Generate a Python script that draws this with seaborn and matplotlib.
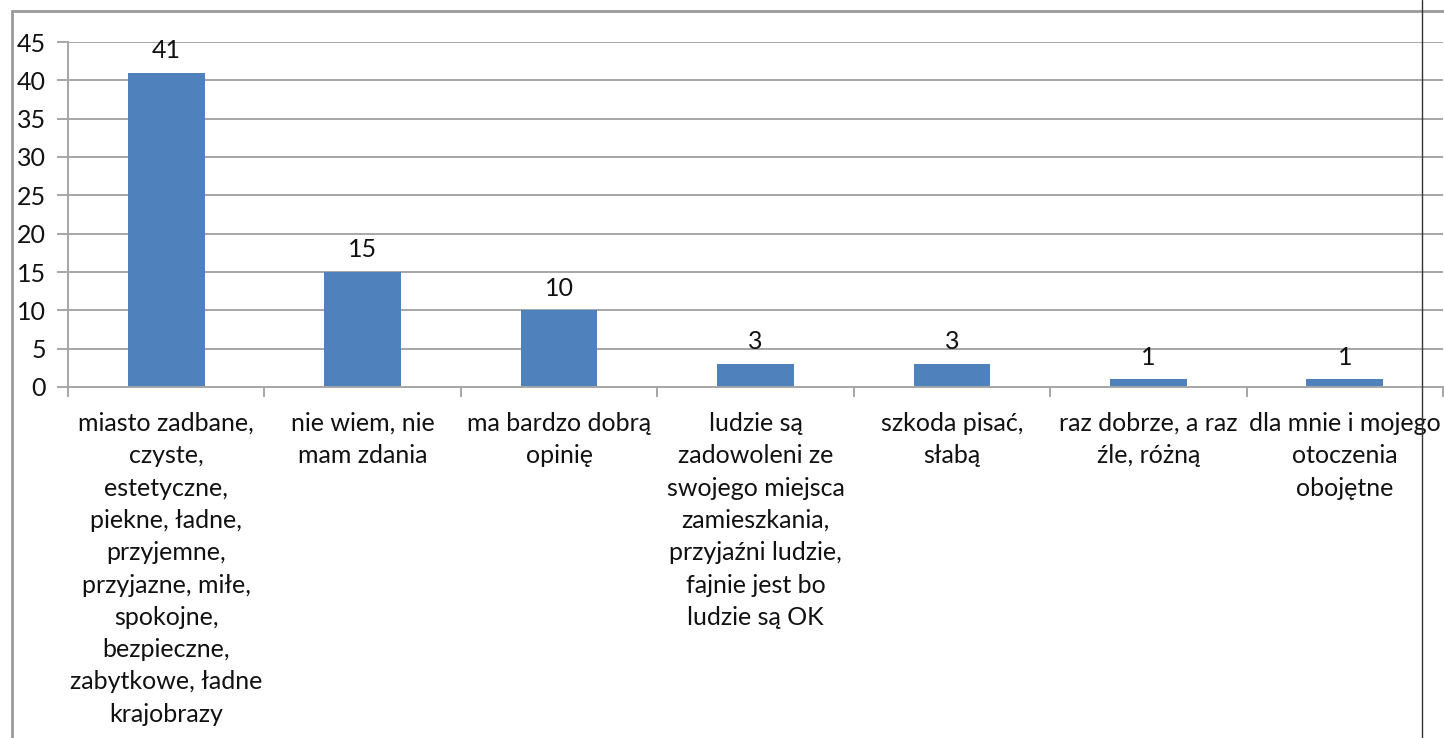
import matplotlib
matplotlib.use("Agg")
import matplotlib.pyplot as plt
import seaborn as sns
import pandas as pd
import numpy as np
from matplotlib.lines import Line2D

categories = [
    "miasto zadbane,\nczyste,\nestetyczne,\npiekne, ładne,\nprzyjemne,\nprzyjazne, miłe,\nspokojne,\nbezpieczne,\nzabytkowe, ładne\nkrajobrazy",
    "nie wiem, nie\nmam zdania",
    "ma bardzo dobrą\nopinię",
    "ludzie są\nzadowoleni ze\nswojego miejsca\nzamieszkania,\nprzyjaźni ludzie,\nfajnie jest bo\nludzie są OK",
    "szkoda pisać,\nsłabą",
    "raz dobrze, a raz\nźle, różną",
    "dla mnie i mojego\notoczenia\nobojętne",
]
values = [41, 15, 10, 3, 3, 1, 1]
yticks = [0, 5, 10, 15, 20, 25, 30, 35, 40, 45]

sns.set_theme(style="white")
plt.rcParams['font.family'] = ['Lato', 'DejaVu Sans']

W, H = 1444, 738
fig = plt.figure(figsize=(W / 100, H / 100), dpi=100)
ax = fig.add_axes([68 / W, 1 - 387 / H, (1443 - 68) / W, (387 - 42) / H])

df = pd.DataFrame({"cat": categories, "val": values})
sns.barplot(data=df, x="cat", y="val", color="#4F81BD", saturation=1, width=0.39,
            linewidth=0, ax=ax)

ax.set_xlim(-0.5, len(categories) - 0.5)
ax.set_ylim(0, 45)
ax.set_yticks(yticks)
ax.set_xlabel("")
ax.set_ylabel("")

grid_c = "#a6a6a6"
for y in yticks[1:]:
    ax.axhline(y, color=grid_c, lw=1.4, zorder=0)
ax.set_axisbelow(True)

for s in ["top", "right"]:
    ax.spines[s].set_visible(False)
ax.spines["left"].set_color(grid_c)
ax.spines["left"].set_linewidth(1.4)
ax.spines["bottom"].set_color(grid_c)
ax.spines["bottom"].set_linewidth(1.4)

ax.tick_params(axis="y", length=8, width=1.4, color=grid_c, pad=8, labelsize=18, labelcolor="#111111", left=True)
ax.set_xticks(np.arange(len(categories)))
ax.set_xticklabels(categories, fontsize=18, color="#111111", linespacing=1.49, va="top")
ax.tick_params(axis="x", which="major", length=0, pad=18)
ax.set_xticks(np.arange(-0.5, len(categories)), minor=True)
ax.tick_params(axis="x", which="minor", length=7, width=1.4, color=grid_c, bottom=True)

for i, v in enumerate(values):
    ax.text(i, v + 1.4, str(v), ha="center", va="bottom", fontsize=18, color="#111111")

# frame lines
fig.add_artist(Line2D([12 / W, 1], [1 - 11 / H, 1 - 11 / H], transform=fig.transFigure, color="#9a9a9a", lw=2))
fig.add_artist(Line2D([12 / W, 12 / W], [0, 1 - 11 / H], transform=fig.transFigure, color="#9a9a9a", lw=2))
fig.add_artist(Line2D([1422 / W, 1422 / W], [0, 1], transform=fig.transFigure, color="#333333", lw=1))

fig.savefig("out.png", dpi=100)
